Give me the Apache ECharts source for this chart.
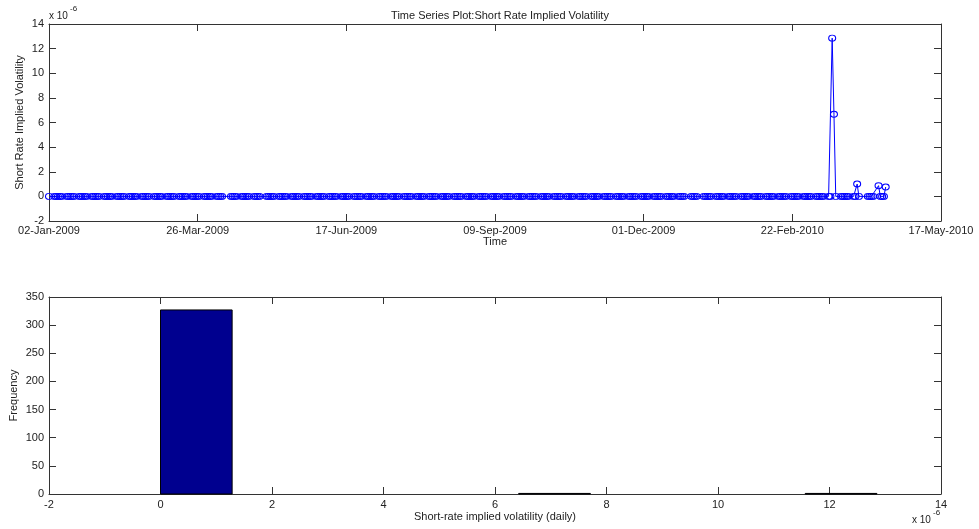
<!DOCTYPE html>
<html>
<head>
<meta charset="utf-8">
<script src="https://cdn.jsdelivr.net/npm/echarts@6/dist/echarts.min.js"></script>
<style>
  html, body { margin: 0; padding: 0; background: #fff; }
  #chart { width: 979px; height: 529px; }
</style>
</head>
<body>
<div id="chart"></div>
<script>
// trading calendar (weekdays, euro market holidays removed)
const startDate = '2009-01-02'
const endDate = '2010-04-16'
const axisEndDate = '2010-05-17'
const holidays = ['2009-04-10', '2009-04-13', '2009-05-01', '2009-12-25', '2010-01-01', '2010-04-02', '2010-04-05']
// days where the implied volatility is not ~0 (units of 1e-6)
const nonZeroDays = ['2010-03-17', '2010-03-18', '2010-03-31', '2010-04-12', '2010-04-16']
const nonZeroValues = [12.85, 6.67, 1.0, 0.87, 0.76]

// histogram (units of 1e-6)
const histEdges = [0, 1.285, 2.57, 3.855, 5.14, 6.425, 7.71, 8.995, 10.28, 11.565, 12.85]
const histCounts = [327, 0, 0, 0, 0, 1, 0, 0, 0, 1]

const months = ['Jan', 'Feb', 'Mar', 'Apr', 'May', 'Jun', 'Jul', 'Aug', 'Sep', 'Oct', 'Nov', 'Dec']
const DAY = 86400000
const t0 = Date.parse(startDate + 'T00:00:00Z')
const spanDays = (Date.parse(axisEndDate + 'T00:00:00Z') - t0) / DAY

function fmtDay(d) {
  const dt = new Date(t0 + Math.floor(d + 1e-6) * DAY)
  const dd = String(dt.getUTCDate()).padStart(2, '0')
  return dd + '-' + months[dt.getUTCMonth()] + '-' + dt.getUTCFullYear()
}

// build the time series: x = days since start date
let seriesData = []
let tEnd = Date.parse(endDate + 'T00:00:00Z')
for (let t = t0; t <= tEnd; t += DAY) {
  const dt = new Date(t)
  const wd = dt.getUTCDay()
  const iso = dt.toISOString().slice(0, 10)
  if (wd === 0 || wd === 6 || holidays.indexOf(iso) >= 0) continue
  const k = nonZeroDays.indexOf(iso)
  seriesData.push([(t - t0) / DAY, k >= 0 ? nonZeroValues[k] : 0])
}

let histData = histCounts.map((c, i) => [histEdges[i], histEdges[i + 1], c])

const FONT = 'Liberation Sans, Arial, sans-serif'
const AX = '#333'
const TXT = '#222'

function boxAxis(extra) {
  return Object.assign({
    type: 'value',
    nameMoveOverlap: false,
    axisLine: { show: true, onZero: false, lineStyle: { color: AX, width: 1 } },
    axisTick: { show: true, inside: true, length: 7, lineStyle: { color: AX } },
    axisLabel: { show: false },
    splitLine: { show: false },
  }, extra)
}

const labelStyle = { color: TXT, fontSize: 11, fontFamily: FONT }
const nameStyle = { color: TXT, fontSize: 11, fontFamily: FONT }

let mychart = echarts.init(document.getElementById('chart'))
let option = {
  animation: false,
  backgroundColor: '#fff',
  title: {
    text: 'Time Series Plot:Short Rate Implied Volatility',
    left: 495,
    top: 5,
    textAlign: 'center',
    textStyle: { color: TXT, fontSize: 11, fontWeight: 'normal', fontFamily: FONT },
  },
  grid: [
    { left: 49, right: 38, top: 24, height: 197, outerBoundsMode: 'none' },
    { left: 49, right: 38, top: 297, height: 197, outerBoundsMode: 'none' },
  ],
  xAxis: [
    boxAxis({
      gridIndex: 0, position: 'bottom', min: 0, max: spanDays, interval: spanDays / 6,
      axisLabel: Object.assign({ show: true, margin: 4, formatter: (v) => fmtDay(v) }, labelStyle),
      name: 'Time', nameLocation: 'middle', nameGap: 15, nameTextStyle: nameStyle,
    }),
    boxAxis({ gridIndex: 0, position: 'top', min: 0, max: spanDays, interval: spanDays / 6 }),
    boxAxis({
      gridIndex: 1, position: 'bottom', min: -2, max: 14, interval: 2,
      axisLabel: Object.assign({ show: true, margin: 5 }, labelStyle),
      name: 'Short-rate implied volatility (daily)', nameLocation: 'middle', nameGap: 17, nameTextStyle: nameStyle,
    }),
    boxAxis({ gridIndex: 1, position: 'top', min: -2, max: 14, interval: 2 }),
  ],
  yAxis: [
    boxAxis({
      gridIndex: 0, position: 'left', min: -2, max: 14, interval: 2,
      axisLabel: Object.assign({ show: true, margin: 5 }, labelStyle),
      name: 'Short Rate Implied Volatility', nameLocation: 'middle', nameGap: 24, nameTextStyle: nameStyle,
    }),
    boxAxis({ gridIndex: 0, position: 'right', min: -2, max: 14, interval: 2 }),
    boxAxis({
      gridIndex: 1, position: 'left', min: 0, max: 350, interval: 50,
      axisLabel: Object.assign({ show: true, margin: 5 }, labelStyle),
      name: 'Frequency', nameLocation: 'middle', nameGap: 30, nameTextStyle: nameStyle,
    }),
    boxAxis({ gridIndex: 1, position: 'right', min: 0, max: 350, interval: 50 }),
  ],
  series: [
    {
      type: 'line',
      xAxisIndex: 0,
      yAxisIndex: 0,
      data: seriesData,
      showSymbol: true,
      showAllSymbol: true,
      symbol: 'circle',
      symbolSize: [7, 6],
      lineStyle: { color: '#0000ff', width: 1 },
      itemStyle: { color: 'rgba(0,0,0,0)', borderColor: '#0000ff', borderWidth: 1 },
      emphasis: { disabled: true },
    },
    {
      type: 'custom',
      xAxisIndex: 2,
      yAxisIndex: 2,
      data: histData,
      renderItem: function (params, api) {
        const c = api.value(2)
        if (c <= 0) return null
        const p0 = api.coord([api.value(0), 0])
        const p1 = api.coord([api.value(1), c])
        return {
          type: 'rect',
          shape: { x: p0[0], y: p1[1], width: p1[0] - p0[0], height: p0[1] - p1[1] },
          style: { fill: '#00008f', stroke: '#000', lineWidth: 1 },
        }
      },
    },
  ],
  graphic: [
    { type: 'text', style: { text: 'x 10', x: 49, y: 11, fill: TXT, font: '10px ' + FONT, textVerticalAlign: 'top' } },
    { type: 'text', style: { text: '-6', x: 70, y: 5, fill: TXT, font: '8px ' + FONT, textVerticalAlign: 'top' } },
    { type: 'text', style: { text: 'x 10', x: 912, y: 515, fill: TXT, font: '10px ' + FONT, textVerticalAlign: 'top' } },
    { type: 'text', style: { text: '-6', x: 933, y: 509, fill: TXT, font: '8px ' + FONT, textVerticalAlign: 'top' } },
  ],
}

mychart.setOption(option)
window.addEventListener('resize', () => {
  mychart.resize()
})
</script>
</body>
</html>
